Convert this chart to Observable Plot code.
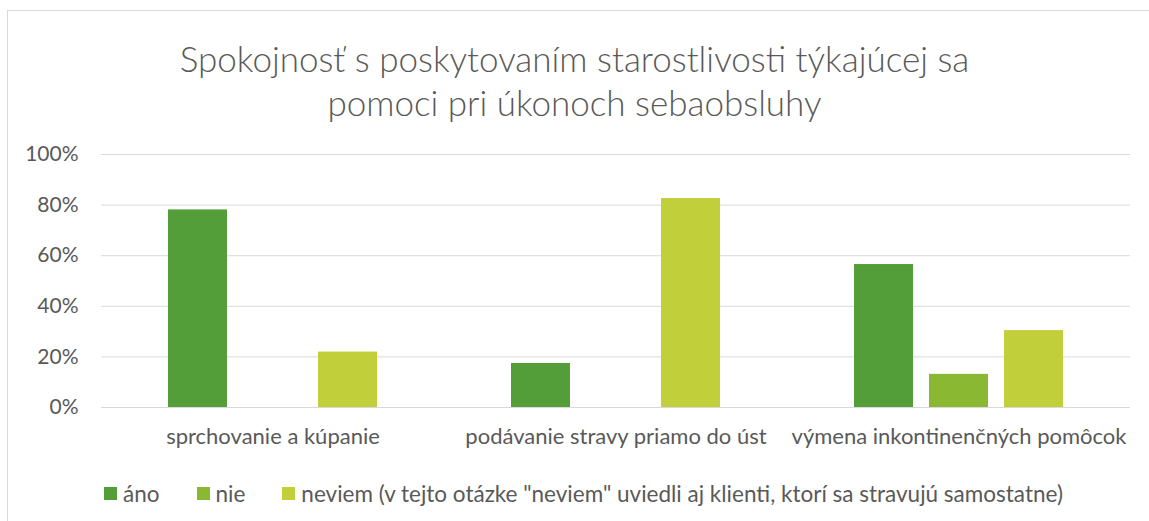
<!DOCTYPE html>
<html>
<head>
<meta charset="utf-8">
<script src="https://cdn.jsdelivr.net/npm/d3@7"></script>
<script src="https://cdn.jsdelivr.net/npm/@observablehq/plot@0.6"></script>
<style>
  html, body { margin: 0; padding: 0; background: #fff; }
  body { width: 1149px; height: 521px; overflow: hidden; position: relative; font-family: Lato, sans-serif; color: #595959; }
  #frame { position: absolute; left: 7px; top: 10px; width: 1200px; height: 600px; border: 1px solid #d9d9d9; box-sizing: border-box; }
  #title { position: absolute; left: 0; top: 36px; width: 1149px; text-align: center; font-size: 35px; line-height: 44px; color: #595959; font-weight: 300; }
  #chart { position: absolute; left: 0; top: 140px; }
  #legend { position: absolute; left: 104px; top: 480px; display: flex; align-items: center; font-size: 22.5px; color: #595959; white-space: nowrap; }
  .item { display: flex; align-items: center; margin-right: 37px; }
  .sw { width: 13px; height: 13px; margin-right: 6px; }
</style>
</head>
<body>
<div id="frame"></div>
<div id="title"></div>
<div id="chart"></div>
<div id="legend"></div>
<script>
const titleLines = ["Spokojnosť s poskytovaním starostlivosti týkajúcej sa", "pomoci pri úkonoch sebaobsluhy"];
const categories = ["sprchovanie a kúpanie", "podávanie stravy priamo do úst", "výmena inkontinenčných pomôcok"];
const series = ["áno", "nie", "neviem (v tejto otázke \"neviem\" uviedli aj klienti, ktorí sa stravujú samostatne)"];
const colors = ["#549e39", "#8ab833", "#c0cf3a"];
const valuesAno = [0.781, 0.174, 0.565];
const valuesNie = [0, 0, 0.131];
const valuesNeviem = [0.219, 0.826, 0.304];
const yTicks = [0, 0.2, 0.4, 0.6, 0.8, 1.0];

const seriesValues = [valuesAno, valuesNie, valuesNeviem];
const rows = [];
categories.forEach((c, i) => {
  series.forEach((s, j) => {
    const v = seriesValues[j][i];
    if (v > 0) rows.push({cat: c, series: s, value: v});
  });
});

document.getElementById("title").innerHTML = titleLines.map(t => `<div>${t}</div>`).join("");

const chart = Plot.plot({
  width: 1149,
  height: 320,
  marginLeft: 100,
  marginRight: 19,
  marginTop: 14,
  marginBottom: 53,
  style: {fontFamily: "Lato, sans-serif", fontSize: "21px", color: "#595959", background: "transparent"},
  fx: {domain: categories, padding: 0, label: null},
  x: {domain: series, paddingInner: 0.2105, paddingOuter: 0.864, axis: null},
  y: {domain: [0, 1], label: null},
  color: {domain: series, range: colors},
  marks: [
    Plot.gridY(yTicks, {stroke: "#d9d9d9", strokeOpacity: 1, strokeWidth: 1}),
    Plot.barY(rows, {fx: "cat", x: "series", y: "value", fill: "series"}),
    Plot.axisY(yTicks, {tickSize: 0, tickPadding: 23, tickFormat: d3.format(".0%"), label: null, fontSize: 21}),
    Plot.axisFx({anchor: "bottom", tickSize: 0, tickPadding: 21, label: null, fontSize: 22})
  ]
});
document.getElementById("chart").appendChild(chart);

const legend = document.getElementById("legend");
series.forEach((s, j) => {
  const item = document.createElement("div");
  item.className = "item";
  const sw = document.createElement("div");
  sw.className = "sw";
  sw.style.background = colors[j];
  const tx = document.createElement("span");
  tx.textContent = s;
  item.appendChild(sw);
  item.appendChild(tx);
  legend.appendChild(item);
});
</script>
</body>
</html>
